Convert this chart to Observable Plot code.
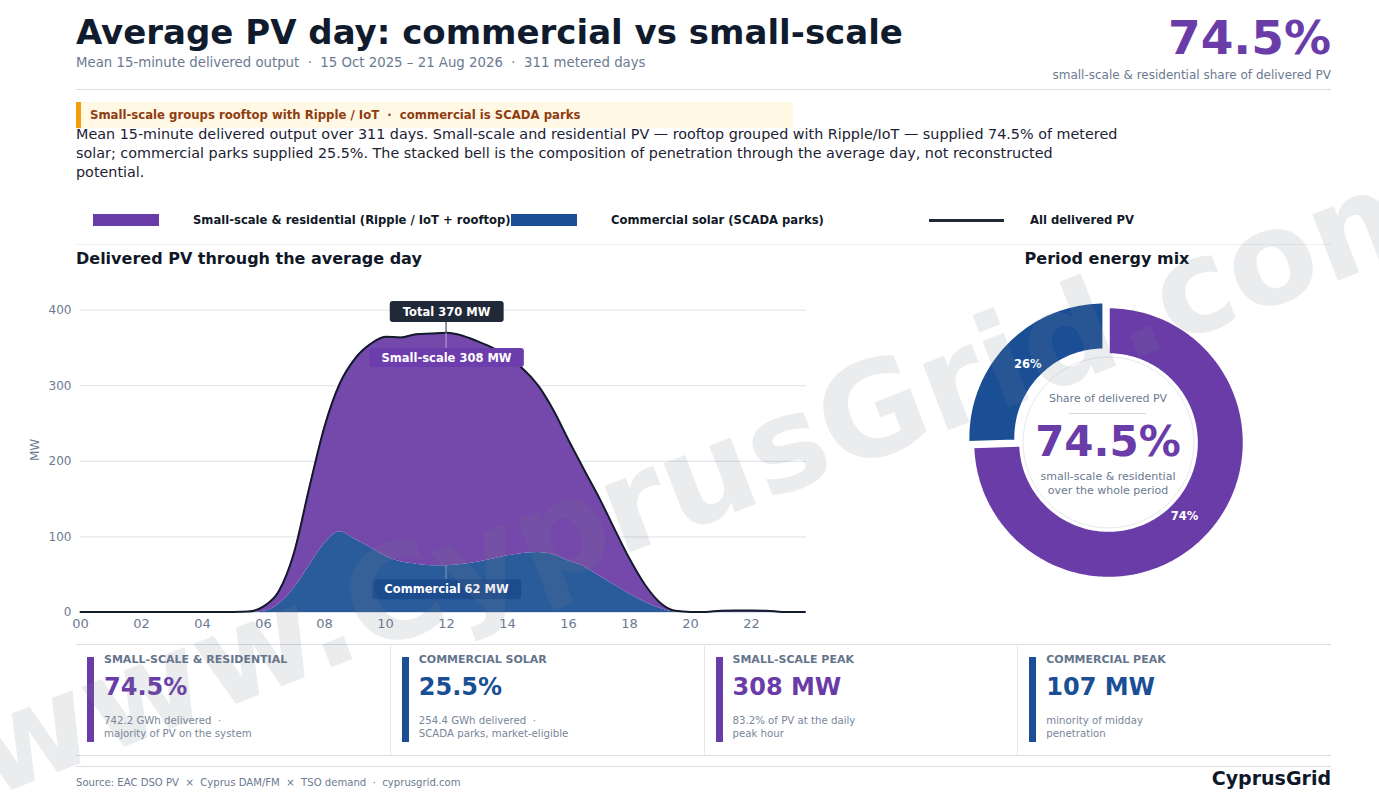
<!DOCTYPE html>
<html><head><meta charset="utf-8">
<script src="https://cdn.jsdelivr.net/npm/d3@7"></script>
<script src="https://cdn.jsdelivr.net/npm/@observablehq/plot@0.6"></script>
<style>
body{margin:0;background:#fff;font-family:"DejaVu Sans",sans-serif;}
#page{position:relative;width:1379px;height:797px;overflow:hidden;background:#fff;}
.a{position:absolute;white-space:nowrap;}
.rule{position:absolute;height:1px;background:#d9dde4;}
.kpi{position:absolute;top:644px;height:111px;width:313.75px;}
.kpi .bar{position:absolute;left:11px;top:13px;width:7px;height:85px;}
.kpi .lab{position:absolute;left:28px;top:9px;font-size:11px;font-weight:bold;color:#64748b;line-height:14px;white-space:nowrap;}
.kpi .val{position:absolute;left:28px;top:28px;font-size:24px;font-weight:bold;line-height:30px;white-space:nowrap;}
.kpi .sub{position:absolute;left:28px;top:71px;font-size:10.2px;color:#7a8699;line-height:12.5px;white-space:nowrap;}
.leg{position:absolute;top:210px;height:20px;line-height:20px;font-size:11.6px;font-weight:bold;color:#111827;white-space:nowrap;}
</style></head>
<body><div id="page">
  <div class="a" style="left:76px;top:11px;font-size:34px;font-weight:bold;color:#101b2e;line-height:42px;">Average PV day: commercial vs small-scale</div>
  <div class="a" style="left:76px;top:55px;font-size:13.3px;color:#6b7a90;line-height:16px;">Mean 15-minute delivered output &nbsp;·&nbsp; 15 Oct 2025 – 21 Aug 2026 &nbsp;·&nbsp; 311 metered days</div>
  <div class="a" style="right:48px;top:9px;font-size:47px;font-weight:bold;color:#6a3ca8;line-height:57px;">74.5%</div>
  <div class="a" style="right:48px;top:68px;font-size:12px;color:#6b7a90;line-height:15px;">small-scale &amp; residential share of delivered PV</div>
  <div class="rule" style="left:76px;top:89px;width:1255px;"></div>

  <div class="a" style="left:76px;top:102px;width:712px;height:26px;background:#fff8e4;border-left:5px solid #f29d0c;"></div>
  <div class="a" style="left:90px;top:108px;font-size:11.7px;font-weight:bold;color:#8f3d12;line-height:14px;">Small-scale groups rooftop with Ripple / IoT &nbsp;·&nbsp; commercial is SCADA parks</div>
  <div class="a" style="left:76px;top:125px;font-size:14.35px;color:#1c2233;line-height:19px;">Mean 15-minute delivered output over 311 days. Small-scale and residential PV — rooftop grouped with Ripple/IoT — supplied 74.5% of metered<br>solar; commercial parks supplied 25.5%. The stacked bell is the composition of penetration through the average day, not reconstructed<br>potential.</div>

  <div class="a" style="left:93px;top:214px;width:66px;height:12px;background:#6a3ca8;"></div>
  <div class="leg" style="left:193px;">Small-scale &amp; residential (Ripple / IoT + rooftop)</div>
  <div class="a" style="left:511px;top:214px;width:66px;height:12px;background:#1a4f96;"></div>
  <div class="leg" style="left:611px;">Commercial solar (SCADA parks)</div>
  <div class="a" style="left:929px;top:219px;width:75px;height:2.5px;background:#1f2937;"></div>
  <div class="leg" style="left:1030px;">All delivered PV</div>
  <div class="rule" style="left:76px;top:244px;width:1255px;background:#eef0f4;"></div>

  <div class="a" style="left:76px;top:248px;font-size:16px;font-weight:bold;color:#111827;line-height:21px;">Delivered PV through the average day</div>
  <div class="a" style="left:1107px;top:248px;transform:translateX(-50%);font-size:16px;font-weight:bold;color:#111827;line-height:21px;">Period energy mix</div>

  <div id="chart" class="a" style="left:0px;top:280px;"></div>
  <div id="donut" class="a" style="left:958px;top:292px;"></div>
  <div class="a" style="left:1108px;top:392px;transform:translateX(-50%);font-size:11px;color:#6b7a90;line-height:14px;">Share of delivered PV</div>
  <div class="a" style="left:1069px;top:413px;width:77px;height:1px;background:#d6d9e2;"></div>
  <div class="a" style="left:1108px;top:416px;transform:translateX(-50%);font-size:42px;font-weight:bold;color:#6a3ca8;line-height:52px;">74.5%</div>
  <div class="a" style="left:1108px;top:470px;transform:translateX(-50%);font-size:11px;color:#6b7a90;line-height:14px;text-align:center;">small-scale &amp; residential<br>over the whole period</div>

  <div class="rule" style="left:76px;top:644px;width:1255px;"></div>
  <div id="kpis"></div>
  <div class="rule" style="left:76px;top:755px;width:1255px;"></div>
  <div class="rule" style="left:76px;top:766px;width:1255px;"></div>
  <div class="a" style="left:76px;top:776px;font-size:10.1px;color:#6b7a90;line-height:14px;">Source: EAC DSO PV &nbsp;×&nbsp; Cyprus DAM/FM &nbsp;×&nbsp; TSO demand &nbsp;·&nbsp; cyprusgrid.com</div>
  <div class="a" style="right:48px;top:766px;font-size:19px;font-weight:bold;color:#0f172a;line-height:24px;">CyprusGrid</div>

  <div class="a" id="wm" style="left:706px;top:475px;transform:translate(-50%,-50%) rotate(-21deg);font-size:130px;line-height:130px;font-weight:bold;color:rgba(120,126,140,0.15);pointer-events:none;z-index:10;">www.CyprusGrid.com</div>
</div>
<script>
// ---- data ----
const hours = [0,0.5,1,1.5,2,2.5,3,3.5,4,4.5,5,5.5,6,6.5,7,7.5,8,8.5,9,9.5,10,10.5,11,11.5,12,12.5,13,13.5,14,14.5,15,15.5,16,16.5,17,17.5,18,18.5,19,19.5,20,20.5,21,21.5,22,22.5,23,23.5,23.75];
const smallScale = [0.5,0.5,0.5,0.5,0.5,0.5,0.5,0.5,0.5,0.5,0.6,1.2,6.5,17,47,103,155,196,239,269,290.5,297,304,307,308,303,292.5,280,262.5,244.5,221,191.5,160,128.5,103.5,74.5,46.5,23,7.5,1.7,0.8,0.8,2.4,2.6,2.6,2.3,0.8,0.7,0.7];
const commercial = [0,0,0,0,0,0,0,0,0,0,0,0,1.5,11,32,62,91,107,97,86,74.5,67,64,62,62,63.5,66.5,70.5,75,78,79.5,76.5,68,61,48.5,36.5,24.5,14,5.5,0.5,0,0,0,0,0,0,0,0,0];
const yTicks = [0,100,200,300,400];
const xTicks = [0,2,4,6,8,10,12,14,16,18,20,22];
const seriesNames = ["Commercial solar (SCADA parks)","Small-scale & residential"];
const energyKeys = ["Small-scale & residential","Commercial solar"];
const energyGWh = [742.2, 254.4];
const kpiLabels = ["SMALL-SCALE & RESIDENTIAL","COMMERCIAL SOLAR","SMALL-SCALE PEAK","COMMERCIAL PEAK"];
const kpiValues = ["74.5%","25.5%","308 MW","107 MW"];
const kpiSubs = [["742.2 GWh delivered  ·","majority of PV on the system"],["254.4 GWh delivered  ·","SCADA parks, market-eligible"],["83.2% of PV at the daily","peak hour"],["minority of midday","penetration"]];

const PURPLE = "#6a3ca8", BLUE = "#1a4f96";
const PURPLE_AREA = "#7549ab", BLUE_AREA = "#2a5b9b";

// ---- main chart ----
const rows = hours.map((h, i) => ({h, small: smallScale[i], comm: commercial[i], total: smallScale[i] + commercial[i]}));
const long = rows.flatMap(d => [{h: d.h, series: seriesNames[0], v: d.comm}, {h: d.h, series: seriesNames[1], v: d.small}]);
const peak = rows[d3.maxIndex(rows, d => d.total)];
const labTotal = `Total ${Math.round(peak.total)} MW`;
const labSmall = `Small-scale ${Math.round(peak.small)} MW`;
const labComm = `Commercial ${Math.round(peak.comm)} MW`;

const chart = Plot.plot({
  width: 820, height: 360,
  marginLeft: 80, marginRight: 14, marginTop: 7, marginBottom: 28,
  style: {fontFamily: "DejaVu Sans", fontSize: "12px", color: "#6b7a90", background: "transparent", overflow: "visible"},
  x: {domain: [0, 23.8], ticks: xTicks, tickFormat: d => String(d).padStart(2, "0"), tickSize: 0, tickPadding: 6, label: null},
  y: {domain: [0, 430], ticks: yTicks, tickSize: 0, tickPadding: 9, label: "MW", labelAnchor: "center", labelOffset: 50, labelArrow: "none"},
  color: {domain: seriesNames, range: [BLUE_AREA, PURPLE_AREA]},
  marks: [
    Plot.ruleY(yTicks, {stroke: "#dde1e9"}),
    Plot.areaY(long, Plot.stackY({x: "h", y: "v", z: "series", fill: "series", order: seriesNames, curve: "monotone-x"})),
    Plot.lineY(rows, {x: "h", y: "total", stroke: "#121a2b", strokeWidth: 2, curve: "monotone-x"}),
    Plot.text([peak], {x: "h", y: "total", text: () => labTotal, dy: -21, fill: "white", fontWeight: "bold", fontSize: 11.5}),
    Plot.text([peak], {x: "h", y: "total", text: () => labSmall, dy: 25, fill: "white", fontWeight: "bold", fontSize: 11.5}),
    Plot.text([peak], {x: "h", y: "comm", text: () => labComm, dy: 24, fill: "white", fontWeight: "bold", fontSize: 11.5})
  ]
});
document.getElementById("chart").append(chart);
const xAxisLab = chart.querySelector('g[aria-label="x-axis tick label"]');
if (xAxisLab) xAxisLab.setAttribute("font-size", "13");

const xs = chart.scale("x"), ys = chart.scale("y");
const specs = [
  {text: labTotal, fill: "#1f2937", padX: 13, h: 21, lead: "down", leadColor: "#1f2937", py: ys.apply(peak.total)},
  {text: labSmall, fill: "#6c3dad", padX: 12, h: 19, lead: "up", leadColor: "#b8a2dc", py: ys.apply(peak.total)},
  {text: labComm, fill: "#1d4c8e", padX: 12, h: 20, lead: "up", leadColor: "#7f9cc6", py: ys.apply(peak.comm)}
];
const px = xs.apply(peak.h);
const NS = "http://www.w3.org/2000/svg";
const rootInv = chart.getScreenCTM().inverse();
chart.querySelectorAll("text").forEach(function(t) {
  const s = specs.find(s => s.text === t.textContent);
  if (!s) return;
  const m = rootInv.multiply(t.getScreenCTM()); // local -> svg
  const b = t.getBBox();
  const cy = b.y + b.height / 2;
  const top = cy - s.h / 2, bottom = cy + s.h / 2;
  const tr = t.getAttribute("transform");
  const rect = document.createElementNS(NS, "rect");
  rect.setAttribute("x", b.x - s.padX); rect.setAttribute("y", top);
  rect.setAttribute("width", b.width + 2 * s.padX); rect.setAttribute("height", s.h);
  rect.setAttribute("rx", 3); rect.setAttribute("fill", s.fill);
  if (tr) rect.setAttribute("transform", tr);
  t.parentNode.insertBefore(rect, t);
  const line = document.createElementNS(NS, "line");
  const lx = px - m.e + (tr ? 0 : 0);
  // convert svg coords to local coords of the text
  const toLocalY = y => y - m.f, toLocalX = x => x - m.e;
  line.setAttribute("x1", toLocalX(px)); line.setAttribute("x2", toLocalX(px));
  if (s.lead === "down") { line.setAttribute("y1", bottom); line.setAttribute("y2", toLocalY(s.py)); }
  else { line.setAttribute("y1", toLocalY(s.py)); line.setAttribute("y2", top); }
  line.setAttribute("stroke", s.leadColor); line.setAttribute("stroke-width", 1);
  if (tr) line.setAttribute("transform", tr);
  t.parentNode.insertBefore(line, rect);
});

// ---- donut ----
const totalGWh = d3.sum(energyGWh);
const R1 = 1, R0 = 0.65, EXPLODE = 0.05;
function ringPts(a0, a1, r0, r1, ox, oy) {
  const n = Math.max(8, Math.ceil((a1 - a0) / (Math.PI / 120)));
  const pts = [];
  for (let i = 0; i <= n; i++) { const a = a0 + (a1 - a0) * i / n; pts.push([ox + r1 * Math.sin(a), oy + r1 * Math.cos(a)]); }
  for (let i = n; i >= 0; i--) { const a = a0 + (a1 - a0) * i / n; pts.push([ox + r0 * Math.sin(a), oy + r0 * Math.cos(a)]); }
  pts.push(pts[0]);
  return pts;
}
function circlePts(r) { const pts = []; for (let i = 0; i <= 240; i++) { const a = 2 * Math.PI * i / 240; pts.push([r * Math.sin(a), r * Math.cos(a)]); } return pts; }
let acc = 0;
const slices = energyKeys.map((k, i) => {
  const share = energyGWh[i] / totalGWh;
  const a0 = acc; acc += share * 2 * Math.PI; const a1 = acc;
  const mid = (a0 + a1) / 2;
  const off = share < 0.5 ? EXPLODE : 0;
  const ox = off * Math.sin(mid), oy = off * Math.cos(mid);
  const rl = 0.78;
  return {key: k, share, lx: ox + rl * Math.sin(mid), ly: oy + rl * Math.cos(mid),
    geometry: {type: "Polygon", coordinates: [ringPts(a0, a1, R0, R1, ox, oy)]}};
});
const domainCircle = {type: "Polygon", coordinates: [circlePts(1.107)]};
const innerCircle = {type: "Polygon", coordinates: [circlePts(0.63)]};
const donut = Plot.plot({
  width: 300, height: 300, margin: 0,
  style: {fontFamily: "DejaVu Sans", background: "transparent", overflow: "visible"},
  projection: {type: "reflect-y", domain: domainCircle, inset: 0},
  color: {domain: energyKeys, range: [PURPLE, BLUE]},
  marks: [
    Plot.geo(slices, {geometry: d => d.geometry, fill: "key", stroke: "white", strokeWidth: 2.5}),
    Plot.geo([innerCircle], {fill: "white", stroke: "#e6e7ef", strokeWidth: 1}),
    Plot.text(slices, {x: "lx", y: "ly", text: d => d3.format(".0%")(d.share), fill: "white", fontWeight: "bold", fontSize: 11.5})
  ]
});
document.getElementById("donut").append(donut);

// ---- KPI cards ----
const kpiColors = [PURPLE, BLUE, PURPLE, BLUE];
const kpis = document.getElementById("kpis");
kpiLabels.forEach((lab, i) => {
  const c = document.createElement("div");
  c.className = "kpi";
  c.style.left = (76 + i * 313.75) + "px";
  if (i > 0) c.style.borderLeft = "1px solid #e5e7eb";
  c.innerHTML = `<div class="bar" style="background:${kpiColors[i]}"></div>
    <div class="lab">${lab.replace("&", "&amp;")}</div>
    <div class="val" style="color:${kpiColors[i]}">${kpiValues[i]}</div>
    <div class="sub">${kpiSubs[i].map(s => s.replace(/  /g, " &nbsp;")).join("<br>")}</div>`;
  kpis.append(c);
});
</script>
</body></html>
